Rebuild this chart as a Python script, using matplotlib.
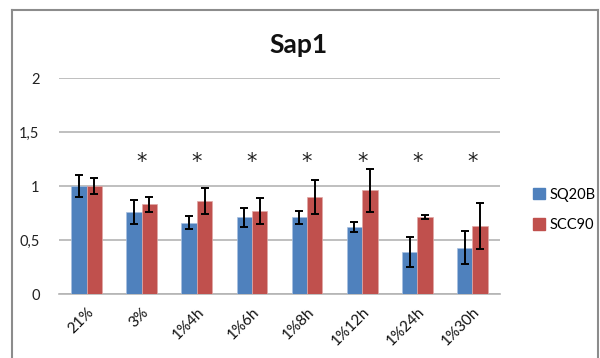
import numpy as np
from matplotlib import pyplot as plt
from matplotlib import patches as mpatches

plt.rcParams['font.family'] = ['Lato', 'DejaVu Sans']

categories = ['21%', '3%', '1%4h', '1%6h', '1%8h', '1%12h', '1%24h', '1%30h']
sq20b = [1.00, 0.76, 0.66, 0.71, 0.71, 0.62, 0.39, 0.43]
sq20b_err = [0.10, 0.11, 0.06, 0.085, 0.06, 0.05, 0.14, 0.15]
scc90 = [1.00, 0.83, 0.86, 0.77, 0.90, 0.96, 0.71, 0.63]
scc90_err = [0.07, 0.07, 0.12, 0.12, 0.155, 0.20, 0.02, 0.21]
significant = [False, True, True, True, True, True, True, True]
y_ticks = [0, 0.5, 1, 1.5, 2]
y_tick_labels = ['0', '0,5', '1', '1,5', '2']

BLUE = '#4F81BD'
RED = '#C0504D'

fig = plt.figure(figsize=(6, 3.58), dpi=100)
# outer chart frame (open at the bottom)
fig.add_artist(plt.Line2D([0.02, 0.02], [0, 0.972], color='#8c8c8c', lw=1.5))
fig.add_artist(plt.Line2D([0.996, 0.996], [0, 0.972], color='#8c8c8c', lw=1.5))
fig.add_artist(plt.Line2D([0.02, 0.996], [0.972, 0.972], color='#8c8c8c', lw=1.5))

ax = fig.add_axes([59 / 600, 1 - 294 / 358, 441 / 600, 216 / 358])
x = np.arange(len(categories))
w = 0.28
err_kw = dict(ecolor='black', elinewidth=1.4, capsize=3, capthick=1.4)
ax.bar(x - w / 2, sq20b, w, yerr=sq20b_err, color=BLUE,
       edgecolor='#a8c0e0', linewidth=0.5, error_kw=err_kw, zorder=3)
ax.bar(x + w / 2, scc90, w, yerr=scc90_err, color=RED,
       edgecolor='#e0a8a6', linewidth=0.5, error_kw=err_kw, zorder=3)

for xi, sig in zip(x, significant):
    if sig:
        ax.text(xi, 1.22, '*', ha='center', va='center', fontsize=15,
                family='DejaVu Sans', color='#222222')

ax.set_xlim(-0.5, len(categories) - 0.5)
ax.set_ylim(0, 2)
ax.set_yticks(y_ticks)
ax.set_yticklabels(y_tick_labels, fontsize=10.5, color='#222222')
ax.set_xticks(x)
ax.set_xticklabels(categories, rotation=45, ha='right',
                   rotation_mode='anchor', fontsize=11, color='#111111')
ax.tick_params(axis='both', length=0, pad=14)
ax.tick_params(axis='x', pad=8)
ax.yaxis.grid(True, color='#b4b4b4', linewidth=1.2, zorder=0)
for side in ['top', 'right', 'left']:
    ax.spines[side].set_visible(False)
ax.spines['bottom'].set_color('#b4b4b4')
ax.spines['bottom'].set_linewidth(1.2)

fig.text(298 / 600, 1 - 45 / 358, 'Sap1', ha='center', va='center',
         fontsize=19, fontweight='bold', color='#111111')

handles = [mpatches.Patch(color=BLUE, label='SQ20B'),
           mpatches.Patch(color=RED, label='SCC90')]
fig.legend(handles=handles, loc='center left',
           bbox_to_anchor=(520 / 600, 1 - 210 / 358), frameon=False,
           fontsize=10.5, handlelength=0.8, handleheight=0.8,
           handletextpad=0.3, labelspacing=1.1)

plt.savefig('out.png', dpi=100)
